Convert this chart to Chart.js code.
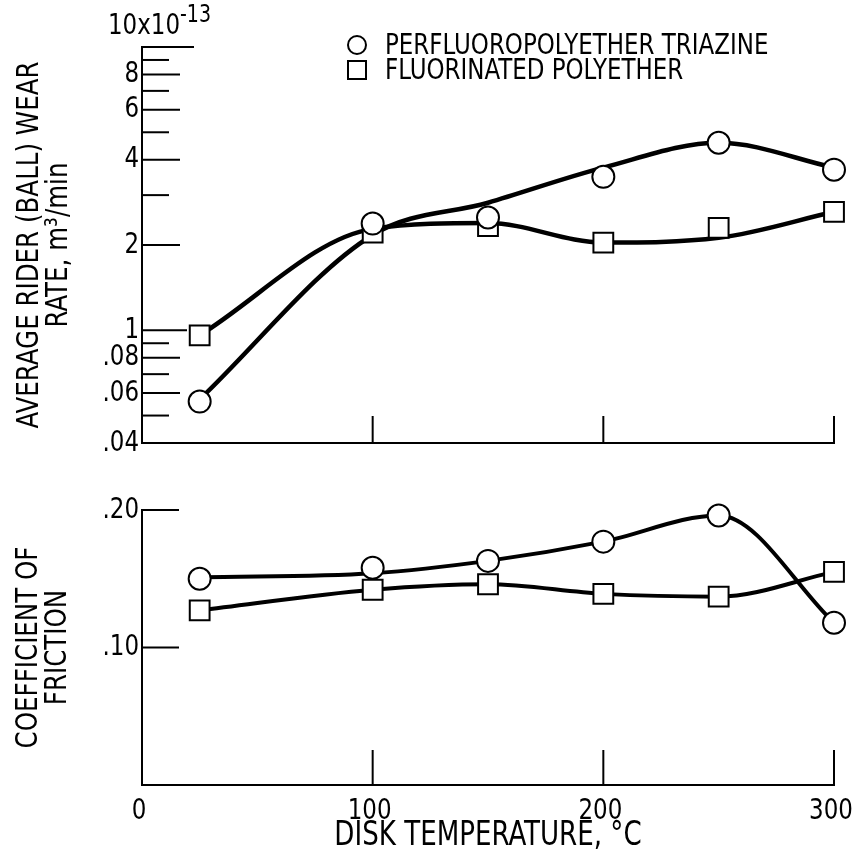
<!DOCTYPE html>
<html>
<head>
<meta charset="utf-8">
<script src="https://cdn.jsdelivr.net/npm/chart.js@4.4.0/dist/chart.umd.min.js"></script>
<style>
  body { margin: 0; background: #fff; }
  #wrap { position: relative; width: 855px; height: 858px; }
  #wear { position: absolute; left: 0; top: 0; }
  #friction { position: absolute; left: 0; top: 465px; }
</style>
</head>
<body>
<div id="wrap">
  <canvas id="wear" width="855" height="465"></canvas>
  <canvas id="friction" width="855" height="393"></canvas>
</div>
<script>
// disk temperatures, °C
const temps = [25, 100, 150, 200, 250, 300];

// wear rate, x10^-13 m3/min (measured points)
const wearTriazine = [0.56, 2.38, 2.5, 3.48, 4.59, 3.69];
const wearFluorinated = [0.96, 2.21, 2.33, 2.04, 2.3, 2.62];
// faired curves
const wearTriazineCurve = [0.57, 2.17, 2.82, 3.75, 4.59, 3.75];
const wearFluorinatedCurve = [0.96, 2.28, 2.39, 2.04, 2.12, 2.62];

// coefficient of friction
const frictionTriazine = [0.150, 0.158, 0.163, 0.177, 0.196, 0.118];
const frictionFluorinated = [0.127, 0.142, 0.146, 0.139, 0.137, 0.155];
const frictionTriazineCurve = [0.151, 0.154, 0.163, 0.177, 0.196, 0.118];
const frictionFluorinatedCurve = [0.127, 0.142, 0.146, 0.139, 0.137, 0.155];

// tick marks and labels
const wearTickValues = [0.4, 0.5, 0.6, 0.7, 0.8, 0.9, 1, 2, 3, 4, 5, 6, 7, 8, 9, 10];
const wearTickLabels = [".04", "", ".06", "", ".08", "", "1", "2", "", "4", "", "6", "", "8", "", ""];
const frictionTickValues = [0.1, 0.2];
const frictionTickLabels = [".10", ".20"];
const tempTickValues = [0, 100, 200, 300];
const tempTickLabels = ["0", "100", "200", "300"];

const seriesNames = ["PERFLUOROPOLYETHER TRIAZINE", "FLUORINATED POLYETHER"];

const FONT = "'DejaVu Sans Condensed', 'DejaVu Sans', sans-serif";
Chart.defaults.font.family = FONT;
Chart.defaults.font.size = 29;
Chart.defaults.color = "#000";

// 🔹 the original lettering is a tall condensed face: squash all text a bit
const SQUASH = 0.88;
const baseFillText = CanvasRenderingContext2D.prototype.fillText;
CanvasRenderingContext2D.prototype.fillText = function (text, x, y, maxWidth) {
  this.save();
  this.translate(x, y);
  this.scale(SQUASH, 1);
  if (maxWidth === undefined) baseFillText.call(this, text, 0, 0);
  else baseFillText.call(this, text, 0, 0, maxWidth / SQUASH);
  this.restore();
};

const pts = (ys) => temps.map((t, i) => ({ x: t, y: ys[i] }));

function markerSet(label, ys, style) {
  return {
    label: label,
    data: pts(ys),
    showLine: false,
    pointStyle: style,
    pointRadius: style === "rect" ? 14 : 11,
    pointBorderWidth: 2,
    pointBorderColor: "#000",
    pointBackgroundColor: "#fff",
    clip: false,
    order: 0
  };
}

function curveSet(ys, width) {
  return {
    data: pts(ys),
    borderColor: "#000",
    borderWidth: width,
    pointRadius: 0,
    cubicInterpolationMode: "monotone",
    fill: false,
    clip: false,
    order: 1
  };
}

// 🔹 inward tick marks
function drawTicks(chart, yLen, xLen) {
  const { ctx, chartArea } = chart;
  const ys = chart.scales.y;
  const xs = chart.scales.x;
  ctx.save();
  ctx.strokeStyle = "#000";
  ctx.lineWidth = 2;
  ys.ticks.forEach((t, i) => {
    const len = yLen(t.value, i);
    if (!len) return;
    const py = ys.getPixelForValue(t.value);
    ctx.beginPath();
    ctx.moveTo(chartArea.left, py);
    ctx.lineTo(chartArea.left + len, py);
    ctx.stroke();
  });
  [100, 200, 300].forEach(v => {
    const px = xs.getPixelForValue(v);
    ctx.beginPath();
    ctx.moveTo(px, chartArea.bottom);
    ctx.lineTo(px, chartArea.bottom - xLen);
    ctx.stroke();
  });
  ctx.restore();
}

function noPad(s) {
  s.paddingLeft = 0;
  s.paddingRight = 0;
  s.paddingTop = 0;
  s.paddingBottom = 0;
}

const wearExtras = {
  id: "wearExtras",
  beforeDatasetsDraw(chart) {
    drawTicks(chart, (v, i) => {
      if (v === 0.4) return 0;
      if (v === 10) return 52;
      if (v === 1) return 45;
      return wearTickLabels[i] ? 38 : 27;
    }, 27);
  },
  afterDraw(chart) {
    const { ctx } = chart;
    const top = chart.scales.y.getPixelForValue(10);
    ctx.save();
    ctx.fillStyle = "#000";
    // 10x10^-13 label above the axis
    ctx.font = "29px " + FONT;
    ctx.textAlign = "right";
    ctx.textBaseline = "alphabetic";
    ctx.fillText("10x10", 180, top - 13);
    ctx.font = "24px " + FONT;
    ctx.textAlign = "left";
    ctx.fillText("-13", 180, top - 25);

    // legend
    ctx.font = "29px " + FONT;
    ctx.textBaseline = "middle";
    ctx.lineWidth = 2;
    ctx.strokeStyle = "#000";
    ctx.beginPath();
    ctx.arc(357, 45, 9, 0, Math.PI * 2);
    ctx.stroke();
    ctx.strokeRect(348, 61, 18, 18);
    ctx.fillText(seriesNames[0], 385, 46);
    ctx.fillText(seriesNames[1], 385, 71);
    ctx.restore();
  }
};

const frictionExtras = {
  id: "frictionExtras",
  beforeDatasetsDraw(chart) {
    drawTicks(chart, () => 37, 35);
  }
};

const axisBorder = { display: true, color: "#000", width: 2 };
const noGrid = { display: false, drawTicks: false };

new Chart(document.getElementById("wear"), {
  type: "line",
  data: {
    datasets: [
      markerSet(seriesNames[0], wearTriazine, "circle"),
      markerSet(seriesNames[1], wearFluorinated, "rect"),
      curveSet(wearTriazineCurve, 4.5),
      curveSet(wearFluorinatedCurve, 4.5)
    ]
  },
  options: {
    responsive: false,
    animation: false,
    layout: { padding: { top: 47, right: 21, left: 0, bottom: 0 } },
    plugins: { legend: { display: false }, tooltip: { enabled: false } },
    scales: {
      x: {
        type: "linear", min: 0, max: 300,
        grid: noGrid, border: axisBorder,
        ticks: { display: false },
        afterFit(s) { s.height = 22; noPad(s); }
      },
      y: {
        type: "logarithmic", min: 0.4, max: 10,
        grid: noGrid, border: axisBorder,
        afterBuildTicks(s) { s.ticks = wearTickValues.map(v => ({ value: v })); },
        ticks: { autoSkip: false, padding: 3, callback: (v, i) => wearTickLabels[i] },
        title: {
          display: true,
          text: ["AVERAGE RIDER (BALL) WEAR", "RATE, m³/min"],
          font: { size: 31, lineHeight: 0.95 },
          padding: { top: 15, bottom: 0 }
        },
        afterFit(s) { s.width = 142; noPad(s); }
      }
    }
  },
  plugins: [wearExtras]
});

new Chart(document.getElementById("friction"), {
  type: "line",
  data: {
    datasets: [
      markerSet(seriesNames[0], frictionTriazine, "circle"),
      markerSet(seriesNames[1], frictionFluorinated, "rect"),
      curveSet(frictionTriazineCurve, 4),
      curveSet(frictionFluorinatedCurve, 4)
    ]
  },
  options: {
    responsive: false,
    animation: false,
    layout: { padding: { top: 45, right: 21, left: 0, bottom: 0 } },
    plugins: { legend: { display: false }, tooltip: { enabled: false } },
    scales: {
      x: {
        type: "linear", min: 0, max: 300,
        grid: noGrid, border: axisBorder,
        afterBuildTicks(s) { s.ticks = tempTickValues.map(v => ({ value: v })); },
        ticks: { autoSkip: false, maxRotation: 0, padding: 9, labelOffset: -3, callback: (v, i) => tempTickLabels[i] },
        title: {
          display: true,
          text: "DISK TEMPERATURE, °C",
          font: { size: 33, lineHeight: 1 },
          padding: { top: 0, bottom: 5 }
        },
        afterFit(s) { s.height = 73; noPad(s); }
      },
      y: {
        type: "linear", min: 0, max: 0.2,
        grid: noGrid, border: axisBorder,
        afterBuildTicks(s) { s.ticks = frictionTickValues.map(v => ({ value: v })); },
        ticks: { autoSkip: false, padding: 3, callback: (v, i) => frictionTickLabels[i] },
        title: {
          display: true,
          text: ["COEFFICIENT OF", "FRICTION"],
          font: { size: 31, lineHeight: 0.95 },
          padding: { top: 14, bottom: 0 }
        },
        afterFit(s) { s.width = 142; noPad(s); }
      }
    }
  },
  plugins: [frictionExtras]
});
</script>
</body>
</html>
